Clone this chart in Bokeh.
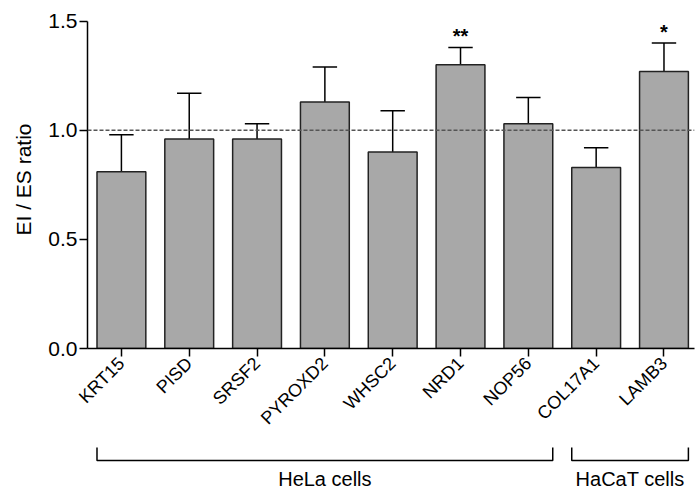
import numpy as np
from bokeh.plotting import figure
from bokeh.models import Range1d, ColumnDataSource, Span, FixedTicker, PrintfTickFormatter
from bokeh.layouts import column
from bokeh.embed import file_html
from bokeh.resources import INLINE
from bokeh.core.properties import value

# ---------------- data ----------------
genes = ["KRT15", "PISD", "SRSF2", "PYROXD2", "WHSC2", "NRD1", "NOP56", "COL17A1", "LAMB3"]
ratio = [0.81, 0.96, 0.96, 1.13, 0.90, 1.30, 1.03, 0.83, 1.27]
upper = [0.98, 1.17, 1.03, 1.29, 1.09, 1.38, 1.15, 0.92, 1.40]
signif = ["", "", "", "", "", "**", "", "", "*"]
groups = ["HeLa cells", "HaCaT cells"]
group_first = [0, 7]
group_last = [6, 8]
y_ticks = [0.0, 0.5, 1.0, 1.5]
reference = 1.0

FONT = value("Liberation Sans")
BAR_W = 0.72
CAP_W = 0.36

xs = list(range(len(genes)))
src = ColumnDataSource(dict(
    x=xs, top=ratio, up=upper,
    cl=[x - CAP_W / 2 for x in xs], cr=[x + CAP_W / 2 for x in xs],
    sig=signif,
))

x_range = Range1d(-0.5, 8.45)

p = figure(width=695, height=438, x_range=x_range, y_range=Range1d(0, 1.549),
           toolbar_location=None, output_backend="svg",
           min_border_left=87, min_border_right=1, min_border_top=10, min_border_bottom=88)
p.outline_line_color = None
p.grid.visible = False
p.background_fill_color = "white"

# error bars (upper only)
p.segment(x0="x", y0="top", x1="x", y1="up", source=src, line_color="black", line_width=1.5)
p.segment(x0="cl", y0="up", x1="cr", y1="up", source=src, line_color="black", line_width=1.5)
# bars
p.vbar(x="x", top="top", bottom=0, width=BAR_W, source=src,
       fill_color="#a8a8a8", line_color="#222222", line_width=1.5)
# significance marks
p.text(x="x", y="up", text="sig", source=src, text_align="center", text_baseline="alphabetic",
       y_offset=-11, text_font=FONT, text_font_size="20px", text_font_style="bold",
       text_color="black")

# reference line
p.add_layout(Span(location=reference, dimension="width", line_color="#555555",
                  line_dash="4 2", line_width=1.5))

# axes
xa = p.xaxis[0]
xa.ticker = FixedTicker(ticks=xs)
xa.major_label_overrides = {i: g for i, g in enumerate(genes)}
xa.major_label_orientation = np.pi / 4
xa.major_label_text_font = "Liberation Sans"
xa.major_label_text_font_size = "18px"
xa.major_label_text_color = "black"
xa.major_label_standoff = 4
xa.major_tick_out = 8
xa.major_tick_in = 0
xa.minor_tick_line_color = None
xa.axis_line_width = 1.5
xa.major_tick_line_width = 1.5

ya = p.yaxis[0]
ya.ticker = FixedTicker(ticks=y_ticks)
ya.formatter = PrintfTickFormatter(format="%.1f")
ya.bounds = (y_ticks[0], y_ticks[-1])
ya.major_label_text_font = "Liberation Sans"
ya.major_label_text_font_size = "21px"
ya.major_label_text_color = "black"
ya.major_label_standoff = 2
ya.major_tick_out = 8
ya.major_tick_in = 0
ya.minor_tick_line_color = None
ya.axis_line_width = 1.5
ya.major_tick_line_width = 1.5
ya.axis_label = "EI / ES ratio"
ya.axis_label_text_font = "Liberation Sans"
ya.axis_label_text_font_size = "21px"
ya.axis_label_text_font_style = "normal"
ya.axis_label_text_color = "black"
ya.axis_label_standoff = 10

# ---------------- group brackets ----------------
p2 = figure(width=695, height=52, x_range=x_range, y_range=Range1d(52, 0),
            toolbar_location=None, output_backend="svg",
            x_axis_type=None, y_axis_type=None,
            min_border_left=87, min_border_right=1, min_border_top=0, min_border_bottom=0)
p2.outline_line_color = None
p2.grid.visible = False

half = BAR_W / 2
bx, by, tx = [], [], []
for f, l in zip(group_first, group_last):
    left, right = f - half, l + half
    bx.append([left, left, right, right])
    by.append([9, 22, 22, 9])
    tx.append((left + right) / 2)
p2.multi_line(xs=bx, ys=by, line_color="black", line_width=1.5)
p2.text(x=tx, y=[40] * len(tx), text=groups, text_align="center", text_baseline="middle",
        text_font=FONT, text_font_size="20px", text_color="black")

layout = column(p, p2, spacing=0)
open("out.html", "w").write(file_html(layout, INLINE))
